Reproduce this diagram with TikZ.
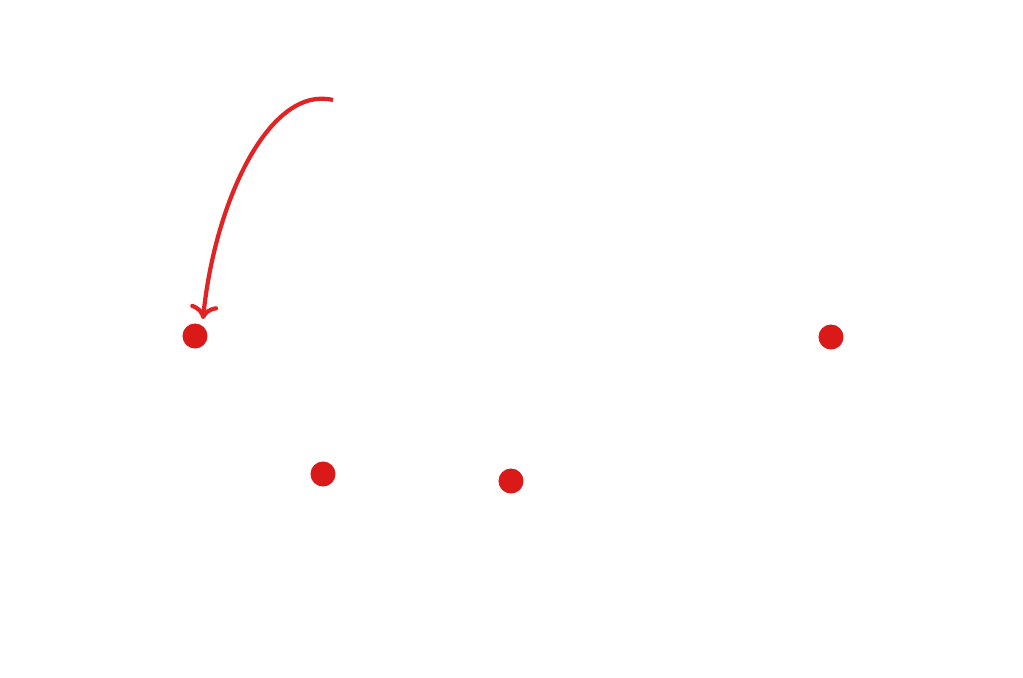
\documentclass[tikz,border=0pt]{standalone}
\usetikzlibrary{arrows.meta}
\begin{document}
\begin{tikzpicture}[x=0.01cm,y=-0.01cm,
  dot/.style={circle,fill={rgb,255:red,218;green,25;blue,25},inner sep=0pt,minimum size=0.25cm},
  arr/.style={draw={rgb,255:red,225;green,35;blue,35},line width=1.2pt,-{To[length=4pt,width=8pt]}}]
\useasboundingbox (0,0) rectangle (1023,678);
\node[dot] (a) at (195,336) {};
\node[dot] (b) at (831,337) {};
\node[dot] (c) at (323,474) {};
\node[dot] (d) at (511,481) {};
\coordinate (s) at (333,100);
\coordinate (e) at (203,319);
\draw[arr] (s) .. controls (270,85) and (215,200) .. (e);
\end{tikzpicture}
\end{document}
